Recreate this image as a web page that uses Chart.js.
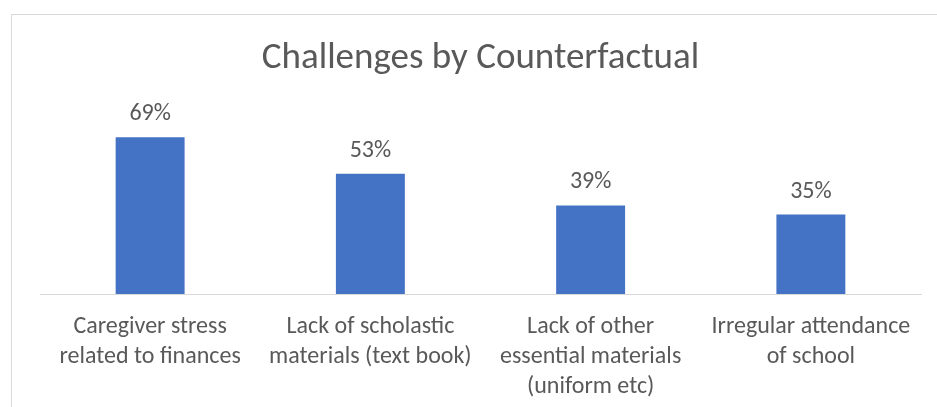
<!DOCTYPE html>
<html>
<head>
<meta charset="utf-8">
<script src="https://cdn.jsdelivr.net/npm/chart.js@4"></script>
<style>
  html, body { margin: 0; padding: 0; background: #fff; }
  #frame {
    position: absolute; left: 11px; top: 14px;
    width: 925px; height: 392px;
    border-left: 1px solid #d9d9d9; border-top: 1px solid #d9d9d9;
  }
  #chart { display: block; }
</style>
</head>
<body>
<div id="frame"><canvas id="chart" width="925" height="392"></canvas></div>
<script>
const categories = [
    ['Caregiver stress', 'related to finances'],
    ['Lack of scholastic', 'materials (text book)'],
    ['Lack of other', 'essential materials', '(uniform etc)'],
    ['Irregular attendance', 'of school']
];
const percentValues = [69, 53, 39, 35];

const FONT = 'Carlito, Lato, sans-serif';
const GREY = '#595959';

// value labels above each bar
const barLabels = {
    id: 'barLabels',
    afterDatasetsDraw(chart) {
        const ctx = chart.ctx;
        const meta = chart.getDatasetMeta(0);
        ctx.save();
        ctx.font = '24px ' + FONT;
        ctx.fillStyle = GREY;
        ctx.textAlign = 'center';
        ctx.textBaseline = 'middle';
        meta.data.forEach(function(bar, i) {
            ctx.fillText(percentValues[i] + '%', bar.x, bar.y - 23);
        });
        ctx.restore();
    }
};

new Chart(document.getElementById('chart'), {
    type: 'bar',
    data: {
        labels: categories,
        datasets: [{
            data: percentValues,
            backgroundColor: '#4472c4',
            categoryPercentage: 0.313,
            barPercentage: 1
        }]
    },
    options: {
        responsive: false,
        animation: false,
        layout: { padding: { left: 28, right: 16, top: 0, bottom: 0 } },
        plugins: {
            legend: { display: false },
            tooltip: { enabled: false },
            title: {
                display: true,
                text: 'Challenges by Counterfactual',
                color: GREY,
                font: { family: FONT, size: 37, weight: 'normal', lineHeight: 1.2 },
                padding: { top: 22, bottom: 31 }
            }
        },
        scales: {
            x: {
                grid: { display: false },
                border: { color: '#d9d9d9', width: 1 },
                ticks: {
                    color: GREY,
                    font: { family: FONT, size: 24, lineHeight: 1.25 },
                    padding: 10,
                    maxRotation: 0,
                    autoSkip: false
                },
                afterFit: function(scale) { scale.height = 113; }
            },
            y: {
                display: false,
                min: 0,
                max: 80
            }
        }
    },
    plugins: [barLabels]
});
</script>
</body>
</html>
